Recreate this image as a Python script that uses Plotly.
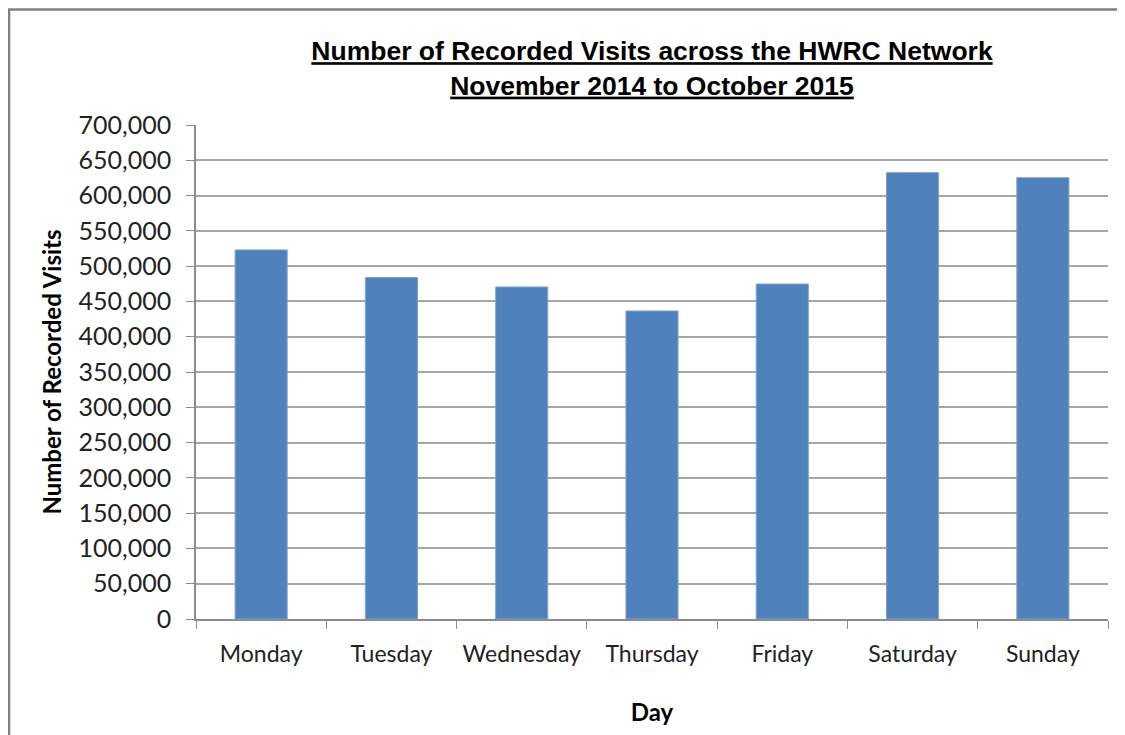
import plotly.graph_objects as go

days = ["Monday", "Tuesday", "Wednesday", "Thursday", "Friday", "Saturday", "Sunday"]
visits = [523000, 484000, 470500, 436500, 474700, 632500, 625300]
y_ticks = list(range(0, 700001, 50000))
y_tick_labels = [f"{v:,}" for v in y_ticks]

fig = go.Figure()
fig.add_trace(go.Bar(
    x=days, y=visits,
    marker=dict(color="#4F81BD", line=dict(color="#7FA3D3", width=1)),
))

fig.update_layout(
    width=1125, height=735,
    paper_bgcolor="white", plot_bgcolor="white",
    margin=dict(l=188, r=25, t=117, b=124),
    bargap=0.6,
    showlegend=False,
    title=dict(
        text="<b><u>Number of Recorded Visits across the HWRC Network</u></b><br><b><u>November 2014 to October 2015</u></b>",
        x=0.5, xanchor="center", xref="paper",
        y=0.929, yanchor="top", yref="container",
        font=dict(family="Liberation Sans Narrow, Arial Narrow, Liberation Sans", size=26.5, color="black"),
    ),
    font=dict(family="Lato, Carlito, Calibri, sans-serif", size=24, color="#222222"),
)

fig.update_yaxes(
    range=[0, 700000],
    tickvals=y_ticks, ticktext=y_tick_labels,
    tickfont=dict(size=25),
    showgrid=True, gridcolor="#A6A6A6", gridwidth=1.5,
    showline=True, linecolor="#8C8C8C", linewidth=1.5,
    ticks="outside", ticklen=8, tickcolor="#8C8C8C",
    ticklabelstandoff=10,
    title=dict(text="<b>Number of Recorded Visits</b>", font=dict(size=24, color="black"), standoff=10),
    zeroline=False, automargin=False,
)
fig.update_xaxes(
    showline=True, linecolor="#8C8C8C", linewidth=1.5,
    ticks="outside", ticklen=8, tickcolor="#8C8C8C", tickson="boundaries",
    tickfont=dict(size=23), tickangle=0,
    ticklabelstandoff=14,
    title=dict(text="<b>Day</b>", font=dict(size=24, color="black"), standoff=38),
    automargin=False,
)

fig.add_shape(type="rect", xref="paper", yref="paper",
              x0=-0.205, x1=1.06, y0=-0.35, y1=1.234,
              line=dict(color="#808080", width=2.5), layer="above")

fig.write_html("out.html")
